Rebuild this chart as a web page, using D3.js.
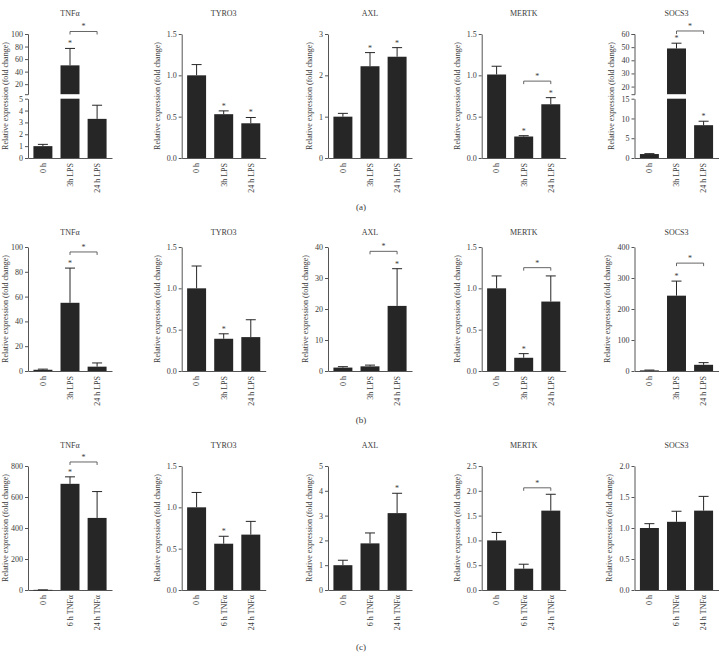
<!DOCTYPE html>
<html><head><meta charset="utf-8">
<script src="https://cdn.jsdelivr.net/npm/d3@7"></script>
<style>body{margin:0;background:#fff} svg{display:block}</style>
</head><body>
<svg id="chart" width="722" height="654"></svg>
<script>
// ---------- DATA ----------
const genes = ["TNFα","TYRO3","AXL","MERTK","SOCS3"];
const catsA = ["0 h","3h LPS","24 h LPS"];
const catsB = ["0 h","3h LPS","24 h LPS"];
const catsC = ["0 h","6 h TNFα","24 h TNFα"];
const rowLabels = ["(a)","(b)","(c)"];

// Row (a)
const meansA   = [[1.0,50,3.3],[1.0,0.53,0.42],[1.0,2.22,2.45],[1.01,0.26,0.65],[1.0,49,8.3]];
const errTopsA = [[1.15,77,4.45],[1.13,0.57,0.49],[1.08,2.55,2.67],[1.11,0.27,0.73],[1.1,53,9.3]];
const starsA   = [[1],[1,2],[1,2],[1,2],[1,2]];
const bracketsA= [[1,2,104],null,null,[1,2,0.93],[1,2,62.3]];
const ticksA   = [[0,1,2,3,4,5,20,40,60,80,100],[0,0.5,1,1.5],[0,1,2,3],[0,0.5,1,1.5],[0,5,10,15,20,30,40,50,60]];
const yMaxA    = [100,1.5,3,1.5,60];
const breaksA  = [[5,4],null,null,null,[15,14.2]];
const decA     = [0,1,0,1,0];

// Row (b)
const meansB   = [[1.0,55,3.5],[1.0,0.39,0.41],[1.1,1.5,21],[1.0,0.16,0.84],[2,243,20]];
const errTopsB = [[1.5,83,6.5],[1.27,0.45,0.62],[1.4,1.9,33],[1.15,0.21,1.15],[3,290,27]];
const starsB   = [[1],[1],[2],[1],[1]];
const bracketsB= [[1,2,96],null,[1,2,38.6],[1,2,1.25],[1,2,348]];
const ticksB   = [[0,20,40,60,80,100],[0,0.5,1,1.5],[0,10,20,30,40],[0,0.5,1,1.5],[0,100,200,300,400]];
const yMaxB    = [100,1.5,40,1.5,400];
const breaksB  = [null,null,null,null,null];
const decB     = [0,1,0,1,0];

// Row (c)
const meansC   = [[1,685,465],[1.0,0.56,0.67],[1.0,1.88,3.1],[1.0,0.43,1.6],[1.0,1.1,1.28]];
const errTopsC = [[1,730,635],[1.18,0.65,0.83],[1.2,2.3,3.9],[1.16,0.52,1.93],[1.07,1.27,1.51]];
const starsC   = [[1],[1],[2],[],[]];
const bracketsC= [[1,2,826],null,null,[1,2,2.06],null];
const ticksC   = [[0,200,400,600,800],[0,0.5,1,1.5],[0,1,2,3,4,5],[0,0.5,1,1.5,2,2.5],[0,0.5,1,1.5,2]];
const yMaxC    = [800,1.5,5,2.5,2];
const breaksC  = [null,null,null,null,null];
const decC     = [0,1,0,1,1];

const yLabel = "Relative expression (fold change)";

// ---------- LAYOUT ----------
const panelX = [28,181.7,328,481.7,634.5];
const rowTop = [34,247,466];
const titleY = [13.5,232,445.5];
const rowLabelY = [207,420,647];
const plotH = 124, plotW = 84;
const FONT = "'Liberation Serif','Times New Roman',serif";
const TXT = "#3a3a3a", AX = "#555", BAR = "#262626";

const svg = d3.select("#chart");

const rows = [
  {cats:catsA, means:meansA, errs:errTopsA, stars:starsA, brk:bracketsA, ticks:ticksA, yMax:yMaxA, breaks:breaksA, dec:decA},
  {cats:catsB, means:meansB, errs:errTopsB, stars:starsB, brk:bracketsB, ticks:ticksB, yMax:yMaxB, breaks:breaksB, dec:decB},
  {cats:catsC, means:meansC, errs:errTopsC, stars:starsC, brk:bracketsC, ticks:ticksC, yMax:yMaxC, breaks:breaksC, dec:decC}
];

function styleText(sel, size) {
  return sel.style("fill", TXT).style("font-family", FONT).style("font-size", size || "8px");
}

rows.forEach((row, r) => {
  const top = rowTop[r], bottom = top + plotH;
  genes.forEach((gene, p) => {
    const x0 = panelX[p];
    const g = svg.append("g");
    const x = d3.scaleBand().domain(row.cats).range([x0, x0 + plotW]).paddingInner(0.3).paddingOuter(0.2);
    const fmt = d3.format(row.dec[p] ? ".1f" : "d");
    const br = row.breaks[p];
    let y, yUp = null, scales;
    if (br) {
      const yLow = d3.scaleLinear().domain([0, br[0]]).range([bottom, top + 64.7]);
      yUp = d3.scaleLinear().domain([br[1], row.yMax[p]]).range([top + 60.2, top]);
      y = v => v <= br[0] ? yLow(v) : yUp(v);
      scales = [[yLow, row.ticks[p].filter(t => t <= br[0])], [yUp, row.ticks[p].filter(t => t > br[0])]];
    } else {
      y = d3.scaleLinear().domain([0, row.yMax[p]]).range([bottom, top]);
      scales = [[y, row.ticks[p]]];
    }
    // y axes
    let maxW = 0;
    scales.forEach(([sc, tv], k) => {
      const ax = g.append("g").attr("transform", `translate(${x0},0)`)
        .call(d3.axisLeft(sc).tickValues(tv).tickFormat(fmt).tickSize(3).tickSizeOuter(k === 1 ? 3 : 0).tickPadding(2));
      ax.select(".domain").attr("stroke", AX);
      ax.selectAll(".tick line").attr("stroke", AX);
      styleText(ax.selectAll("text"));
      ax.selectAll("text").each(function(){ maxW = Math.max(maxW, this.getComputedTextLength()); });
    });
    // x axis
    const xa = g.append("g").attr("transform", `translate(0,${bottom})`)
      .call(d3.axisBottom(x).tickSize(0).tickSizeOuter(0));
    xa.select(".domain").attr("stroke", AX);
    styleText(xa.selectAll("text"))
      .attr("transform", "rotate(-90)").attr("text-anchor", "end")
      .attr("x", -5).attr("y", 0).attr("dy", "0.35em");
    // y label
    const lx = Math.max(5, x0 - maxW - 15);
    styleText(g.append("text")
      .attr("transform", `translate(${lx},${(top + bottom) / 2}) rotate(-90)`)
      .attr("text-anchor", "middle").attr("dy", "0.35em"))
      .text(yLabel);
    // title
    styleText(g.append("text").attr("x", x0 + plotW / 2).attr("y", titleY[r]).attr("dy", "0.35em")
      .attr("text-anchor", "middle"))
      .text(gene);
    // bars
    row.cats.forEach((c, i) => {
      const v = row.means[p][i];
      const bx = x(c), bw = x.bandwidth();
      if (br && v > br[0]) {
        g.append("rect").attr("x", bx).attr("width", bw).attr("y", y(br[0])).attr("height", bottom - y(br[0])).attr("fill", BAR);
        g.append("rect").attr("x", bx).attr("width", bw).attr("y", yUp(v)).attr("height", yUp(br[1]) - yUp(v)).attr("fill", BAR);
      } else {
        g.append("rect").attr("x", bx).attr("width", bw).attr("y", y(v)).attr("height", Math.max(0.6, bottom - y(v))).attr("fill", BAR);
      }
      const cx = bx + bw / 2, et = row.errs[p][i];
      g.append("line").attr("x1", cx).attr("x2", cx).attr("y1", y(v)).attr("y2", y(et)).attr("stroke", BAR).attr("stroke-width", 1);
      g.append("line").attr("x1", cx - 5).attr("x2", cx + 5).attr("y1", y(et)).attr("y2", y(et)).attr("stroke", BAR).attr("stroke-width", 1);
      if (row.stars[p].includes(i)) {
        styleText(g.append("text").attr("x", cx).attr("y", y(et) - 2).attr("text-anchor", "middle")).text("*");
      }
    });
    // bracket
    const b = row.brk[p];
    if (b) {
      const xa1 = x(row.cats[b[0]]) + x.bandwidth() / 2, xa2 = x(row.cats[b[1]]) + x.bandwidth() / 2;
      const yb = y(b[2]);
      g.append("path").attr("d", `M${xa1},${yb + 3}V${yb}H${xa2}V${yb + 3}`).attr("fill", "none").attr("stroke", AX).attr("stroke-width", 0.9);
      styleText(g.append("text").attr("x", (xa1 + xa2) / 2).attr("y", yb - 2).attr("text-anchor", "middle")).text("*");
    }
  });
  styleText(svg.append("text").attr("x", 361).attr("y", rowLabelY[r]).attr("dy", "0.35em").attr("text-anchor", "middle"), "9px")
    .text(rowLabels[r]);
});
</script>
</body></html>
